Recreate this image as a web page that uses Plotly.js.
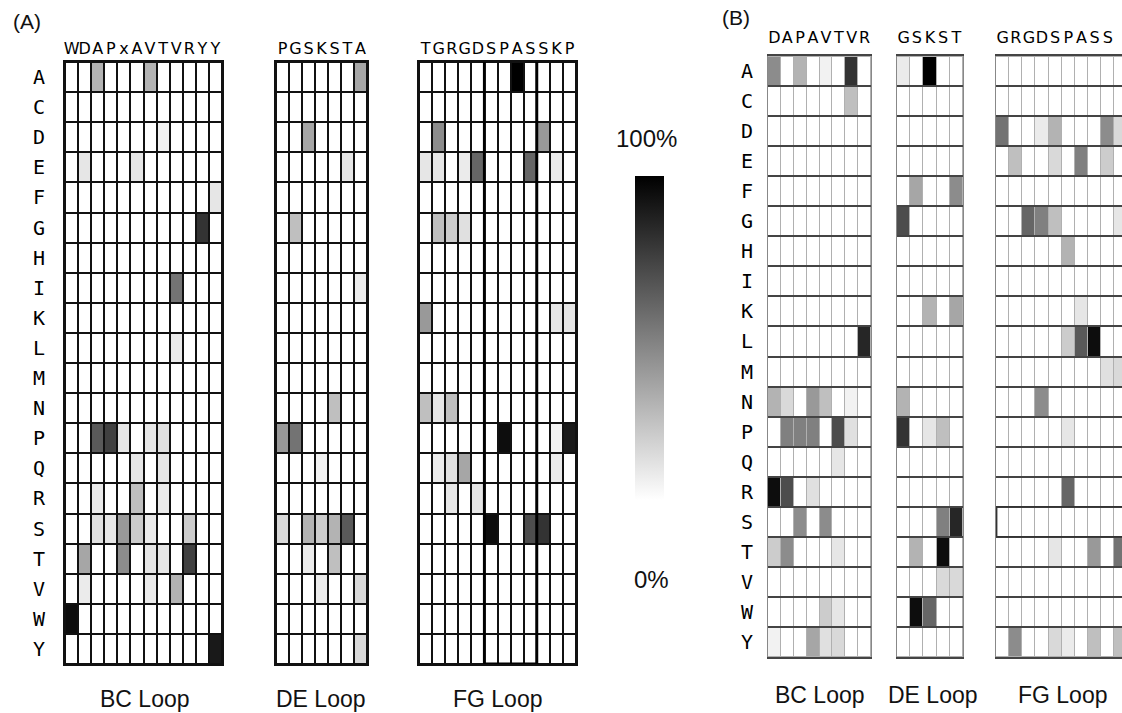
<!DOCTYPE html>
<html><head><meta charset="utf-8">
<script src="https://cdn.plot.ly/plotly-3.0.1.min.js"></script>
<style>html,body{margin:0;padding:0;background:#fff}#chart{width:1122px;height:713px}</style>
</head><body><div id="chart"></div>
<script>
// ---- row categories (amino acids) ----
const residues = ['A','C','D','E','F','G','H','I','K','L','M','N','P','Q','R','S','T','V','W','Y'];

// ---- column headers (loop sequences) ----
const headA_BC = ['W','D','A','P','x','A','V','T','V','R','Y','Y'];
const headA_DE = ['P','G','S','K','S','T','A'];
const headA_FG = ['T','G','R','G','D','S','P','A','S','S','K','P'];
const headB_BC = ['D','A','P','A','V','T','V','R'];
const headB_DE = ['G','S','K','S','T'];
const headB_FG = ['G','R','G','D','S','P','A','S','S','K'];

const loopLabels = ['BC Loop','DE Loop','FG Loop'];
const panelLabels = ['(A)','(B)'];
const scaleLabels = ['100%','0%'];

// ---- frequencies (%) per residue row ----
const A_BC = [
 [0,0,30,0,0,0,30,0,0,0,0,0],
 [0,0,0,0,0,0,0,0,0,0,0,0],
 [0,0,0,0,0,0,0,5,0,0,0,0],
 [0,10,0,0,0,10,0,0,0,0,0,0],
 [0,0,0,0,0,0,0,0,0,0,0,10],
 [0,0,0,0,0,0,0,0,0,0,80,0],
 [0,0,0,0,0,0,0,0,0,0,0,0],
 [0,0,0,0,0,0,0,0,55,0,0,0],
 [0,0,0,0,0,0,0,0,0,0,0,0],
 [0,0,0,0,0,0,0,0,8,0,0,0],
 [0,0,0,0,0,0,0,0,0,0,0,0],
 [0,0,0,0,0,0,0,0,0,0,0,0],
 [0,0,65,75,10,0,10,12,0,0,0,0],
 [0,0,0,0,0,10,0,10,0,0,0,0],
 [0,0,8,0,0,25,0,8,0,0,0,0],
 [0,0,12,10,40,20,8,0,0,20,0,0],
 [0,35,0,0,45,0,10,10,0,75,0,0],
 [0,8,0,0,0,0,8,0,30,0,0,0],
 [95,0,0,0,0,0,0,0,0,0,0,0],
 [0,0,0,0,0,0,0,0,0,0,0,90]
];
const A_DE = [
 [0,0,0,0,0,0,35],
 [0,0,0,0,0,0,0],
 [0,0,35,0,0,0,0],
 [0,0,0,0,0,10,0],
 [0,0,0,0,0,0,0],
 [0,25,0,0,0,0,0],
 [0,0,0,0,0,0,0],
 [0,0,0,0,0,0,8],
 [0,0,0,0,0,0,0],
 [0,0,0,0,0,0,0],
 [0,0,0,0,0,0,0],
 [0,0,0,0,25,0,0],
 [40,55,0,0,0,0,0],
 [0,0,0,5,0,0,0],
 [0,0,0,0,0,0,0],
 [15,0,30,20,30,65,0],
 [0,0,8,0,25,0,0],
 [0,0,0,8,0,0,15],
 [0,0,0,0,0,0,0],
 [0,0,0,0,0,0,15]
];
const A_FG = [
 [0,0,0,0,0,0,0,100,0,0,0,0],
 [0,0,0,0,0,0,0,0,0,0,0,0],
 [0,45,0,0,0,0,0,0,0,40,0,0],
 [10,10,0,8,60,0,0,0,60,0,8,0],
 [0,0,0,0,0,0,0,0,0,0,0,0],
 [0,25,20,12,0,0,0,0,0,0,0,0],
 [0,0,0,0,0,0,0,0,0,0,0,0],
 [0,0,0,0,0,0,0,0,0,0,0,0],
 [40,0,0,0,0,0,0,0,0,0,10,10],
 [0,0,0,0,0,0,0,0,0,0,0,0],
 [0,0,0,0,0,0,0,0,0,0,0,0],
 [25,10,25,0,0,0,0,0,0,0,0,0],
 [0,0,0,0,0,0,95,0,0,0,5,90],
 [0,8,12,35,0,0,0,0,0,0,8,0],
 [0,0,10,0,10,0,0,0,0,0,0,0],
 [0,0,0,0,0,95,0,0,70,80,0,0],
 [0,0,0,0,0,0,0,0,0,0,0,0],
 [0,0,0,0,0,0,0,0,0,0,0,0],
 [0,0,0,0,0,0,0,0,0,0,0,0],
 [0,0,0,0,0,0,0,0,0,0,0,0]
];
const B_BC = [
 [45,0,30,0,5,0,80,0],
 [0,0,0,0,0,0,25,0],
 [0,0,0,0,0,0,0,0],
 [0,0,0,0,0,0,0,0],
 [0,0,0,0,0,0,0,0],
 [0,0,0,0,0,0,0,0],
 [0,0,0,0,0,0,0,0],
 [0,0,0,0,0,0,0,0],
 [0,0,0,0,0,0,0,0],
 [0,0,0,0,0,0,0,85],
 [0,0,0,0,0,0,0,0],
 [30,15,0,40,25,0,5,0],
 [0,50,50,50,0,70,12,0],
 [0,0,0,0,0,10,0,0],
 [95,70,0,12,0,0,0,0],
 [0,0,45,0,45,0,0,0],
 [20,45,0,0,0,10,0,0],
 [0,0,0,0,0,0,0,0],
 [0,0,0,0,20,10,0,0],
 [5,0,0,35,12,15,0,0]
];
const B_DE = [
 [8,0,100,0,0],
 [0,0,0,0,0],
 [0,0,0,0,0],
 [0,0,0,0,0],
 [0,35,0,0,45],
 [70,0,0,0,0],
 [0,0,0,0,0],
 [0,0,0,0,0],
 [0,0,30,0,35],
 [0,0,0,0,0],
 [0,0,0,0,0],
 [30,0,0,0,0],
 [80,0,10,25,0],
 [0,0,0,0,0],
 [0,0,0,0,0],
 [0,0,0,50,85],
 [0,30,0,95,0],
 [0,0,0,15,15],
 [0,95,60,0,0],
 [0,0,0,0,0]
];
const B_FG = [
 [0,0,0,0,0,0,0,0,0,0],
 [0,0,0,0,0,0,0,0,0,0],
 [55,0,0,8,30,0,0,0,45,15],
 [0,25,0,0,15,0,50,0,20,0],
 [0,0,0,0,0,0,0,0,0,0],
 [0,0,60,50,25,0,0,0,0,10],
 [0,0,0,0,0,30,0,0,0,0],
 [0,0,0,0,0,0,0,0,0,0],
 [0,0,0,0,0,0,10,0,0,0],
 [0,0,0,0,0,20,65,95,0,0],
 [0,0,0,0,0,0,0,0,12,15],
 [0,0,0,45,0,0,0,0,0,0],
 [0,0,0,0,0,10,0,0,0,0],
 [0,0,0,0,0,0,0,0,0,0],
 [0,0,0,0,0,60,0,0,0,0],
 [0,0,0,0,0,0,0,0,0,0],
 [0,0,0,0,10,0,0,40,0,55],
 [0,0,0,0,0,0,0,0,0,0],
 [0,0,0,0,0,0,0,0,0,0],
 [0,45,0,0,15,8,0,25,0,25]
];

// ---- layout geometry (px) ----
const W = 1122, H = 713;
const fx = p => p / W;
const fy = p => 1 - p / H;
const rowIdx = residues.map((_, i) => i);
const grey = [[0,'#ffffff'],[1,'#000000']];
const monoFont = 'DejaVu Sans Mono, monospace';
const headFont = 'DejaVu Sans, Verdana, sans-serif';
const sansFont = 'Liberation Sans, Arial, sans-serif';

const panels = [
  {z:A_BC, head:headA_BC, x0:65,  x1:222, yt:62, yb:664, B:false, labels:true},
  {z:A_DE, head:headA_DE, x0:276, x1:367, yt:62, yb:664, B:false, labels:false},
  {z:A_FG, head:headA_FG, x0:419, x1:576, yt:62, yb:664, B:false, labels:false},
  {z:B_BC, head:headB_BC, x0:768, x1:871, yt:56, yb:657, B:true, labels:true},
  {z:B_DE, head:headB_DE, x0:897, x1:963, yt:56, yb:657, B:true, labels:false},
  {z:B_FG, head:headB_FG, x0:996, x1:1122, yt:56, yb:657, B:true, labels:false, cell:13.15}
];

const data = [];
const layout = {
  width: W, height: H,
  margin: {l:0, r:0, t:0, b:0},
  paper_bgcolor: '#ffffff',
  plot_bgcolor: '#111111',
  showlegend: false,
  shapes: [], annotations: []
};

panels.forEach((p, k) => {
  const n = p.head.length;
  const sx = k === 0 ? '' : String(k + 1);
  const cols = p.head.map((_, i) => i);
  const xr = p.cell ? [-0.5, -0.5 + (p.x1 - p.x0) / p.cell] : [-0.5, n - 0.5];
  const trace = {
    type: 'heatmap', z: p.z, x: cols, y: rowIdx,
    xaxis: 'x' + sx, yaxis: 'y' + sx,
    colorscale: grey, zmin: 0, zmax: 100,
    xgap: p.B ? 1 : 2, ygap: 2,
    hoverinfo: 'skip', showscale: k === 0
  };
  if (k === 0) {
    trace.colorbar = {
      x: fx(635), xanchor: 'left', thickness: 29,
      y: fy(176), yanchor: 'top', len: 324 / H, lenmode: 'fraction',
      outlinewidth: 0, showticklabels: false, ticks: '', xpad: 0, ypad: 0
    };
  }
  data.push(trace);

  layout['xaxis' + sx] = {
    domain: [fx(p.x0), Math.min(1, fx(p.x1))], range: xr,
    anchor: 'y' + sx, side: 'top',
    tickmode: 'array', tickvals: cols, ticktext: p.head,
    tickangle: 0, ticks: '', ticklabelstandoff: p.B ? 5 : 0,
    tickfont: {family: headFont, size: 16, color: '#000'},
    showgrid: false, zeroline: false,
    showline: true, mirror: true,
    linecolor: p.B ? '#444' : '#111', linewidth: 2, fixedrange: true
  };
  const ya = {
    domain: [fy(p.yb), fy(p.yt)], range: [residues.length - 0.5, -0.5],
    anchor: 'x' + sx,
    tickmode: 'array', tickvals: rowIdx, ticktext: residues,
    showticklabels: p.labels, ticks: '', ticklabelstandoff: p.B ? 10 : 14,
    tickfont: {family: monoFont, size: 20, color: '#000'},
    showgrid: false, zeroline: false,
    showline: true, mirror: true,
    linecolor: p.B ? '#888' : '#111', linewidth: p.B ? 1 : 2, fixedrange: true
  };
  if (p.B) {
    ya.minor = {tickmode: 'linear', tick0: 0.5, dtick: 1, showgrid: true,
                gridcolor: '#444', gridwidth: 2, ticks: ''};
    layout.shapes.push({type: 'rect', xref: 'x' + sx + ' domain', yref: 'y' + sx + ' domain',
      x0: 0, x1: 1, y0: 0, y1: 1, fillcolor: '#b0b0b0', line: {width: 0}, layer: 'below'});
  }
  layout['yaxis' + sx] = ya;
});

// highlight boxes
layout.shapes.push({type: 'rect', xref: 'x3', yref: 'y3', x0: 4.5, x1: 8.5, y0: 19.5, y1: -0.6,
  line: {color: '#000', width: 3}, fillcolor: 'rgba(0,0,0,0)', layer: 'above'});
layout.shapes.push({type: 'rect', xref: 'x6', yref: 'y6', x0: -0.45, x1: 12, y0: 14.5, y1: 15.5,
  line: {color: '#333', width: 1.5}, fillcolor: 'rgba(0,0,0,0)', layer: 'above'});

// loop labels
const loopPosA = [145, 321, 498], loopPosB = [820, 933, 1063];
loopLabels.forEach((t, i) => {
  layout.annotations.push({text: t, xref: 'paper', yref: 'paper', x: fx(loopPosA[i]), y: fy(699),
    xanchor: 'center', yanchor: 'middle', showarrow: false,
    font: {family: sansFont, size: 23, color: '#111'}});
  layout.annotations.push({text: t, xref: 'paper', yref: 'paper', x: fx(loopPosB[i]), y: fy(695),
    xanchor: 'center', yanchor: 'middle', showarrow: false,
    font: {family: sansFont, size: 23, color: '#111'}});
});
// panel labels
[[27, 22], [736, 17]].forEach((pt, i) => {
  layout.annotations.push({text: panelLabels[i], xref: 'paper', yref: 'paper', x: fx(pt[0]), y: fy(pt[1]),
    xanchor: 'center', yanchor: 'middle', showarrow: false,
    font: {family: sansFont, size: 21, color: '#111'}});
});
// colour scale labels
[[646, 138], [651, 579]].forEach((pt, i) => {
  layout.annotations.push({text: scaleLabels[i], xref: 'paper', yref: 'paper', x: fx(pt[0]), y: fy(pt[1]),
    xanchor: 'center', yanchor: 'middle', showarrow: false,
    font: {family: sansFont, size: 24, color: '#111'}});
});

Plotly.newPlot('chart', data, layout, {displayModeBar: false, staticPlot: true});
</script></body></html>
